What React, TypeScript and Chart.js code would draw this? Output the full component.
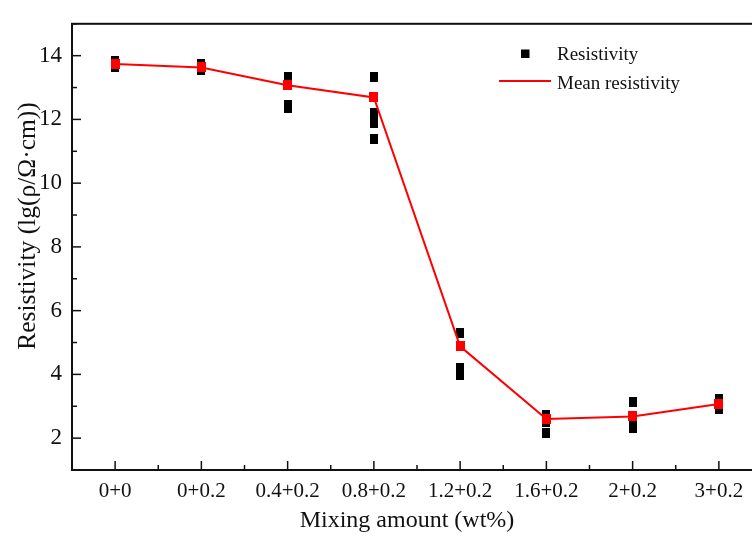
import React, { useEffect, useRef } from "react";
import { Chart, registerables } from "chart.js";

Chart.register(...registerables);

const categories = ["0+0", "0+0.2", "0.4+0.2", "0.8+0.2", "1.2+0.2", "1.6+0.2", "2+0.2", "3+0.2"];
const meanResistivity = [13.74, 13.63, 13.07, 12.69, 4.88, 2.6, 2.68, 3.07];
const sampleResistivity = [
  [13.84, 13.72, 13.66],
  [13.74, 13.62, 13.56],
  [13.33, 13.22, 12.45, 12.35],
  [13.32, 12.2, 12.05, 11.9, 11.37],
  [5.31, 4.19, 3.97],
  [2.74, 2.52, 2.15],
  [3.12, 2.45, 2.33],
  [3.22, 2.92],
];
const yTickValues = [2, 4, 6, 8, 10, 12, 14];
const yMin = 1;
const yMax = 15;
const xTitle = "Mixing amount (wt%)";
const yTitle = "Resistivity (lg(\u03c1/\u03a9\u00b7cm))";
const legendLabels = ["Resistivity", "Mean resistivity"];

const FONT = "'Liberation Serif', 'Times New Roman', serif";

function makeRect(w: number, h: number, color: string) {
  const c = document.createElement("canvas");
  c.width = w;
  c.height = h;
  const g = c.getContext("2d")!;
  g.fillStyle = color;
  g.fillRect(0, 0, w, h);
  return c;
}

const decor = {
  id: "decor",
  afterDraw(chart: any) {
    const { ctx, chartArea: a, scales } = chart;
    const xs = scales.x;
    const ys = scales.y;
    ctx.save();
    ctx.strokeStyle = "#111";
    ctx.lineWidth = 1.5;
    const line = (x1: number, y1: number, x2: number, y2: number) => {
      ctx.beginPath();
      ctx.moveTo(x1, y1);
      ctx.lineTo(x2, y2);
      ctx.stroke();
    };
    for (let v = yMin; v <= yMax; v++) {
      const py = ys.getPixelForValue(v);
      const len = v % 2 === 0 ? 9 : 5;
      line(a.left, py, a.left + len, py);
    }
    const step = xs.getPixelForValue(1) - xs.getPixelForValue(0);
    for (let i = 0; i < categories.length; i++) {
      const px = xs.getPixelForValue(i);
      line(px, a.bottom, px, a.bottom - 9);
      line(px + step / 2, a.bottom, px + step / 2, a.bottom - 5);
    }
    ctx.lineWidth = 2;
    ctx.strokeRect(a.left, a.top, a.right - a.left, a.bottom - a.top);

    ctx.fillStyle = "#111";
    ctx.font = `24px ${FONT}`;
    ctx.textAlign = "center";
    ctx.textBaseline = "middle";
    ctx.fillText(xTitle, 407, 521);
    ctx.save();
    ctx.font = `25.5px ${FONT}`;
    ctx.translate(28, 226);
    ctx.rotate(-Math.PI / 2);
    ctx.fillText(yTitle, 0, 0);
    ctx.restore();

    // legend
    ctx.fillStyle = "#000";
    ctx.fillRect(521, 49.5, 8.5, 8.5);
    ctx.strokeStyle = "#ff0000";
    ctx.lineWidth = 2;
    line(499, 81, 551, 81);
    ctx.fillStyle = "#111";
    ctx.font = `19px ${FONT}`;
    ctx.textAlign = "left";
    ctx.textBaseline = "alphabetic";
    ctx.fillText(legendLabels[0], 557, 60);
    ctx.fillText(legendLabels[1], 557, 88.5);
    ctx.restore();
  },
};

export default function App() {
  const ref = useRef<HTMLCanvasElement | null>(null);
  useEffect(() => {
    if (!ref.current) return;
    const points: { x: string; y: number }[] = [];
    sampleResistivity.forEach((vals, i) => vals.forEach((v) => points.push({ x: categories[i], y: v })));
    const blackMark = makeRect(8, 10, "#000");
    const redMark = makeRect(9, 10, "#ff0000");
    const chart = new Chart(ref.current, {
      type: "line",
      data: {
        labels: categories,
        datasets: [
          {
            label: legendLabels[1],
            data: meanResistivity,
            borderColor: "#ff0000",
            backgroundColor: "#ff0000",
            borderWidth: 2,
            pointStyle: redMark as any,
            pointRadius: 5,
            pointBorderWidth: 0,
            tension: 0,
            order: 0,
          },
          {
            label: legendLabels[0],
            data: points as any,
            showLine: false,
            borderColor: "#000",
            backgroundColor: "#000",
            pointStyle: blackMark as any,
            pointRadius: 5,
            pointBorderWidth: 0,
            order: 1,
          },
        ],
      },
      options: {
        animation: false,
        responsive: false,
        devicePixelRatio: 1,
        layout: { padding: { left: 0, top: 15, right: 28, bottom: 0 } },
        plugins: { legend: { display: false }, tooltip: { enabled: false } },
        scales: {
          x: {
            type: "category",
            offset: true,
            grid: { display: false, drawTicks: false },
            border: { display: false },
            ticks: { color: "#111", font: { family: FONT, size: 21 }, padding: 9, maxRotation: 0, autoSkip: false },
            afterFit: (s: any) => {
              s.height = 66;
            },
          },
          y: {
            min: yMin,
            max: yMax,
            grid: { display: false, drawTicks: false },
            border: { display: false },
            ticks: { color: "#111", font: { family: FONT, size: 23 }, padding: 10 },
            afterBuildTicks: (s: any) => {
              s.ticks = yTickValues.map((v) => ({ value: v }));
            },
            afterFit: (s: any) => {
              s.width = 72;
            },
          },
        },
      },
      plugins: [decor],
    });
    return () => chart.destroy();
  }, []);
  return (
    <div style={{ position: "fixed", left: 0, top: 0, width: 752, height: 536, overflow: "hidden", background: "#fff" }}>
      <canvas ref={ref} width={790} height={536} style={{ width: 790, height: 536, display: "block" }} />
    </div>
  );
}
